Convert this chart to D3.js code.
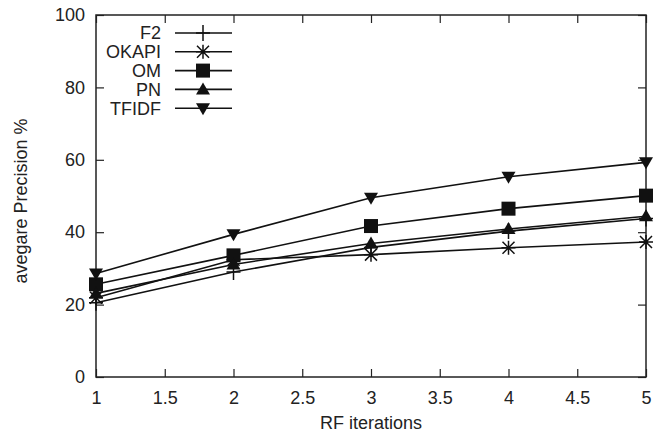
<!DOCTYPE html>
<html>
<head>
<meta charset="utf-8">
<script src="https://cdn.jsdelivr.net/npm/d3@7"></script>
<style>
  body { margin: 0; background: #fff; }
  text { font-family: "Liberation Sans", Arial, sans-serif; fill: #222; }
</style>
</head>
<body>
<div id="chart"></div>
<script>
// Data
const iterations = [1, 2, 3, 4, 5];
const f2 = [20.5, 29.0, 35.8, 40.3, 43.8];
const okapi = [21.9, 32.4, 33.8, 35.7, 37.3];
const om = [25.6, 33.6, 41.7, 46.5, 50.1];
const pn = [23.1, 31.1, 36.9, 40.9, 44.4];
const tfidf = [28.6, 39.4, 49.5, 55.3, 59.3];
const xTicks = [1, 1.5, 2, 2.5, 3, 3.5, 4, 4.5, 5];
const yTicks = [0, 20, 40, 60, 80, 100];

const series = [
    {name: "F2", values: f2, symbol: "plus"},
    {name: "OKAPI", values: okapi, symbol: "star"},
    {name: "OM", values: om, symbol: "square"},
    {name: "PN", values: pn, symbol: "up"},
    {name: "TFIDF", values: tfidf, symbol: "down"}
];

const width = 653, height = 435;
const margin = {top: 15, right: 7, bottom: 58, left: 96};
const iw = width - margin.left - margin.right,
      ih = height - margin.top - margin.bottom;
const fs = 18;

const svg = d3.select("#chart").append("svg")
    .attr("width", width).attr("height", height);
const g = svg.append("g").attr("transform", `translate(${margin.left},${margin.top})`);

const x = d3.scaleLinear().domain([1, 5]).range([0, iw]);
const y = d3.scaleLinear().domain([0, 100]).range([ih, 0]);

// Inward ticks on all four sides
const tk = 8;
g.append("g").attr("transform", `translate(0,${ih})`)
    .call(d3.axisBottom(x).tickValues(xTicks).tickSizeInner(-tk).tickSizeOuter(0).tickPadding(14).tickFormat(d3.format("")));
g.append("g")
    .call(d3.axisTop(x).tickValues(xTicks).tickSizeInner(-tk).tickSizeOuter(0).tickFormat(""));
g.append("g")
    .call(d3.axisLeft(y).tickValues(yTicks).tickSizeInner(-tk).tickSizeOuter(0).tickPadding(11));
g.append("g").attr("transform", `translate(${iw},0)`)
    .call(d3.axisRight(y).tickValues(yTicks).tickSizeInner(-tk).tickSizeOuter(0).tickFormat(""));

g.selectAll(".domain").remove();
g.selectAll(".tick line").attr("stroke", "#222").attr("stroke-width", 1.2);
g.selectAll(".tick text").attr("font-size", fs).style("fill", "#222")
    .attr("font-family", "Liberation Sans, Arial, sans-serif");

g.append("rect").attr("width", iw).attr("height", ih)
    .attr("fill", "none").attr("stroke", "#222").attr("stroke-width", 1.5);

// Marker shapes
function marker(sel, symbol) {
    if (symbol === "plus") {
        sel.append("path").attr("d", "M-7,0H7M0,-8V8")
            .attr("stroke", "#111").attr("stroke-width", 1.5).attr("fill", "none");
    } else if (symbol === "star") {
        sel.append("path").attr("d", "M-7,0H7M0,-7V7M-6,-6L6,6M-6,6L6,-6")
            .attr("stroke", "#111").attr("stroke-width", 1.5).attr("fill", "none");
    } else if (symbol === "square") {
        sel.append("rect").attr("x", -7).attr("y", -7).attr("width", 14).attr("height", 14)
            .attr("fill", "#111");
    } else if (symbol === "up") {
        sel.append("path").attr("d", "M0,-7L7,5H-7Z").attr("fill", "#111");
    } else {
        sel.append("path").attr("d", "M0,7L7,-5H-7Z").attr("fill", "#111");
    }
}

const line = d3.line().x((d, i) => x(iterations[i])).y(d => y(d));

series.forEach(s => {
    g.append("path").datum(s.values)
        .attr("d", line).attr("fill", "none")
        .attr("stroke", "#111").attr("stroke-width", 1.6);
    s.values.forEach((v, i) => {
        const m = g.append("g").attr("transform", `translate(${x(iterations[i])},${y(v)})`);
        marker(m, s.symbol);
    });
});

// Legend
const legend = svg.append("g").attr("transform", "translate(161,33)");
series.forEach((s, i) => {
    const row = legend.append("g").attr("transform", `translate(0,${i * 18.8})`);
    row.append("text").attr("x", 0).attr("y", 0).attr("dy", "0.36em")
        .attr("text-anchor", "end").attr("font-size", fs).text(s.name);
    row.append("line").attr("x1", 14).attr("x2", 71).attr("y1", 0).attr("y2", 0)
        .attr("stroke", "#111").attr("stroke-width", 1.6);
    const m = row.append("g").attr("transform", "translate(42,0)");
    marker(m, s.symbol);
});

// Axis titles
svg.append("text").attr("x", margin.left + iw / 2).attr("y", 429)
    .attr("text-anchor", "middle").attr("font-size", fs).text("RF iterations");
svg.append("text").attr("transform", `translate(27,${margin.top + ih / 2 + 5}) rotate(-90)`)
    .attr("text-anchor", "middle").attr("font-size", fs).text("avegare Precision %");
</script>
</body>
</html>
